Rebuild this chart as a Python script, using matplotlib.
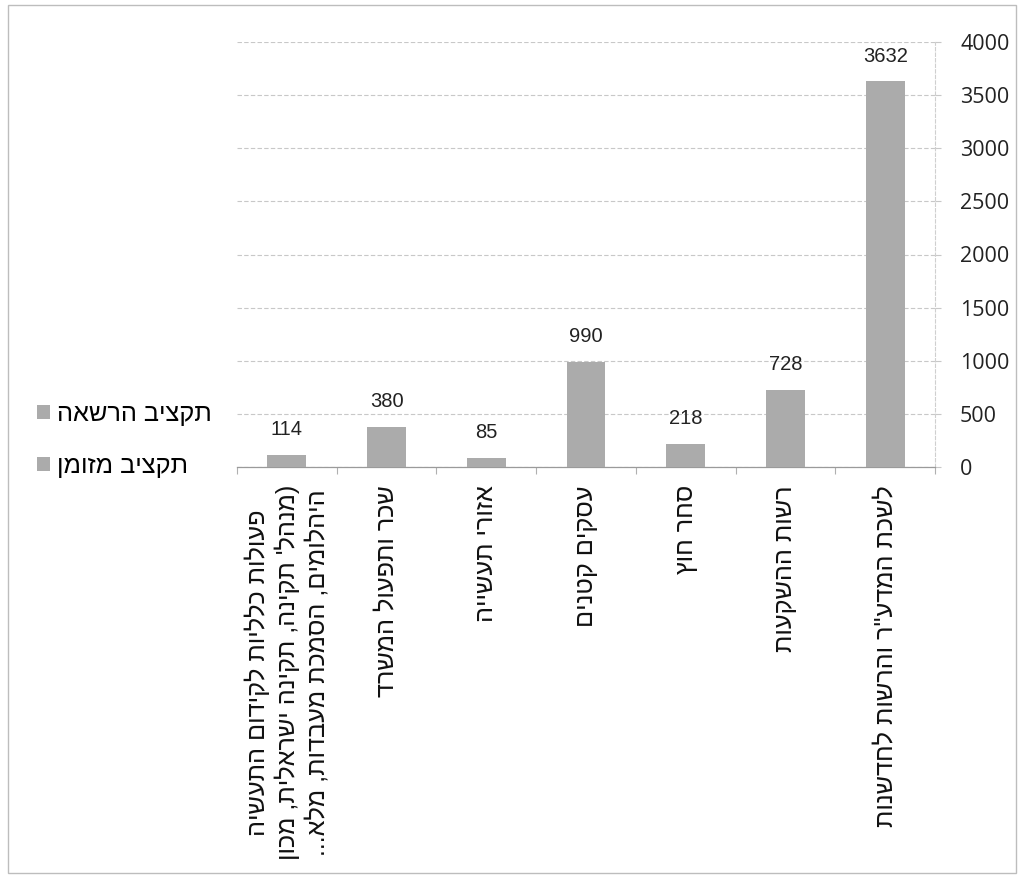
import matplotlib
matplotlib.use("Agg")
import matplotlib.pyplot as plt
from matplotlib.patches import Patch, Rectangle
from matplotlib.ticker import FixedLocator

# ---------------- data ----------------
categories = [
    "לשכת המדע\"ר והרשות לחדשנות",
    "רשות ההשקעות",
    "סחר חוץ",
    "עסקים קטנים",
    "אזורי תעשייה",
    "שכר ותפעול המשרד",
    "פעולות כלליות לקידום התעשיה\n(מנהל' תקינה, תקינה ישראלית, מכון\nהיהלומים, הסמכת מעבדות, מלא...",
]
values = [3632, 728, 218, 990, 85, 380, 114]
series_names = ["תקציב הרשאה", "תקציב מזומן"]
y_ticks = [0, 500, 1000, 1500, 2000, 2500, 3000, 3500, 4000]

HEB = ["Liberation Sans", "DejaVu Sans"]
NUM = ["Open Sans", "DejaVu Sans"]


def visual(s):
    """Convert logical-order Hebrew text to visual order (per line)."""
    swap = {"(": ")", ")": "(", "[": "]", "]": "["}
    out = []
    for line in s.split("\n"):
        out.append("".join(swap.get(c, c) for c in reversed(line)))
    return "\n".join(out)


W, H = 1019, 875
fig = plt.figure(figsize=(W / 100, H / 100), dpi=100)
fig.patch.set_facecolor("white")

x0, x1 = 237, 935
ytop, ybot = 42, 467
ax = fig.add_axes([x0 / W, 1 - ybot / H, (x1 - x0) / W, (ybot - ytop) / H])

bar_color = "#ababab"
xs = list(range(len(values)))
ax.bar(xs, values, width=0.39, color=bar_color, zorder=3)

for xi, v in zip(xs, values):
    ax.annotate(f"{v}", (xi, v), xytext=(0, 25), textcoords="offset pixels",
                ha="center", va="center", fontsize=14.5, family=HEB,
                color="#222222", zorder=4)

ax.set_xlim(len(values) - 0.5, -0.5)   # right-to-left
ax.set_ylim(y_ticks[0], y_ticks[-1])

# y axis on the right
ax.yaxis.tick_right()
ax.yaxis.set_major_locator(FixedLocator(y_ticks))
ax.set_yticklabels([str(t) for t in y_ticks], family=NUM, fontsize=15.5,
                   color="#222222")
ax.tick_params(axis="y", length=4, width=0.8, color="#c8c8c8", pad=14)

# x ticks: labels at centres, marks at boundaries
ax.set_xticks(xs)
ax.set_xticklabels([visual(c) for c in categories], rotation=90,
                   ha="center", va="top", family=HEB, fontsize=18.2,
                   color="#111111", multialignment="center",
                   linespacing=1.25)
ax.tick_params(axis="x", length=0, pad=13)
ax.set_xticks([i - 0.5 for i in range(len(values) + 1)], minor=True)
ax.tick_params(axis="x", which="minor", length=5, width=0.8, color="#b0b0b0")

ax.grid(axis="y", color="#c8c8c8", linestyle=(0, (4, 2)), linewidth=0.8,
        zorder=0)
for s in ["top", "left"]:
    ax.spines[s].set_visible(False)
ax.spines["right"].set_color("#cfcfcf")
ax.spines["right"].set_linestyle((0, (3, 2)))
ax.spines["right"].set_linewidth(0.8)
ax.spines["bottom"].set_color("#9a9a9a")
ax.spines["bottom"].set_linewidth(0.9)

# legend
handles = [Patch(facecolor=bar_color, edgecolor="none"),
           Patch(facecolor=bar_color, edgecolor="none")]
fig.legend(handles, [visual(n) for n in series_names],
           loc="center left", bbox_to_anchor=(37 / W, 1 - 440 / H),
           frameon=False, prop={"family": HEB, "size": 18.3},
           handlelength=0.5, handleheight=0.5, handletextpad=0.3,
           labelspacing=1.1, borderpad=0, borderaxespad=0)

# outer frame
fig.add_artist(Rectangle((8 / W, 2 / H), (1016 - 8) / W, (868 - 0) / H,
                         transform=fig.transFigure, fill=False,
                         edgecolor="#bdbdbd", linewidth=1.0))

fig.savefig("out.png", dpi=100)
